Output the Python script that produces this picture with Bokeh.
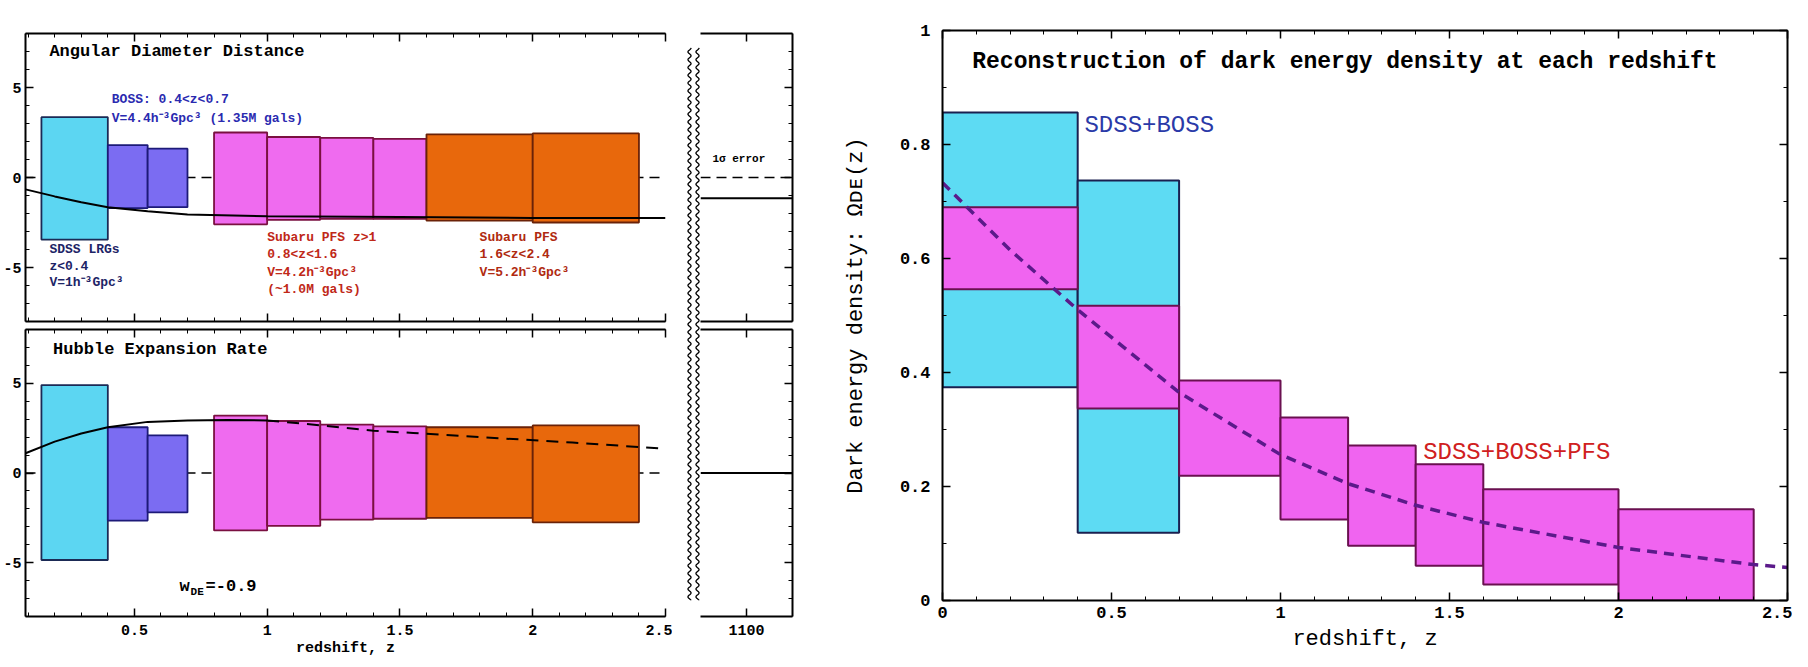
import numpy as np
from bokeh.plotting import figure
from bokeh.models import (ColumnDataSource, Range1d, LinearAxis, SingleIntervalTicker,
                          FixedTicker, CustomJSTickFormatter, CustomLabelingPolicy, Span, Title)
from bokeh.layouts import row, column
from bokeh.embed import file_html
from bokeh.resources import INLINE
from bokeh.core.properties import value

FONT = "Liberation Mono"

# ---------------- data: left panel (fractional errors, %) ----------------
bin_lo = [0.15, 0.40, 0.55, 0.80, 1.00, 1.20, 1.40, 1.60, 2.00]
bin_hi = [0.40, 0.55, 0.70, 1.00, 1.20, 1.40, 1.60, 2.00, 2.40]
bin_survey = ["SDSS", "BOSS", "BOSS", "PFS", "PFS", "PFS", "PFS", "PFShi", "PFShi"]
da_err_hi = [3.35, 1.80, 1.60, 2.50, 2.25, 2.20, 2.15, 2.40, 2.45]
da_err_lo = [-3.45, -1.70, -1.65, -2.60, -2.35, -2.30, -2.30, -2.40, -2.50]
h_err_hi = [4.90, 2.55, 2.10, 3.20, 2.90, 2.70, 2.60, 2.55, 2.65]
h_err_lo = [-4.85, -2.65, -2.20, -3.20, -2.95, -2.60, -2.55, -2.50, -2.75]

da_model_z = [0.09, 0.20, 0.30, 0.40, 0.55, 0.70, 1.00, 1.50, 2.00, 2.50]
da_model = [-0.66, -1.05, -1.38, -1.65, -1.88, -2.05, -2.15, -2.20, -2.25, -2.25]
h_model_z = [0.09, 0.20, 0.30, 0.40, 0.55, 0.70, 0.85, 1.00]
h_model = [1.10, 1.75, 2.20, 2.55, 2.85, 2.93, 2.95, 2.93]
h_model2_z = [1.00, 1.20, 1.40, 1.55, 1.80, 2.15, 2.50]
h_model2 = [2.93, 2.66, 2.36, 2.23, 2.00, 1.70, 1.35]

cmb_z_ticks = [1100]
cmb_da_model = -1.15
cmb_h_model = 0.0

# ---------------- data: right panel (Omega_DE reconstruction) ----------------
sb_zlo = [0.0, 0.4]
sb_zhi = [0.4, 0.7]
sb_low = [0.374, 0.119]
sb_high = [0.856, 0.737]
pfs_zlo = [0.0, 0.4, 0.7, 1.0, 1.2, 1.4, 1.6, 2.0]
pfs_zhi = [0.4, 0.7, 1.0, 1.2, 1.4, 1.6, 2.0, 2.4]
pfs_low = [0.546, 0.337, 0.219, 0.142, 0.096, 0.061, 0.028, 0.000]
pfs_high = [0.690, 0.517, 0.386, 0.321, 0.272, 0.239, 0.195, 0.160]
ode_z = [0.0, 0.2, 0.4, 0.7, 1.0, 1.2, 1.4, 1.6, 2.0, 2.4, 2.5]
ode_true = [0.733, 0.615, 0.510, 0.365, 0.256, 0.205, 0.167, 0.137, 0.093, 0.063, 0.058]

fill_map = {"SDSS": "#5cd6f2", "BOSS": "#7b6cf2", "PFS": "#ef6bef", "PFShi": "#e8680c"}
line_map = {"SDSS": "#1b2a55", "BOSS": "#1d1a78", "PFS": "#7a1040", "PFShi": "#6a2208"}

NO_LABELS = "for (const i of indices) { indices.unset(i) } return indices"


def style_axis(ax, labels=True, size="15px", bold=True):
    ax.axis_line_width = 2
    ax.axis_line_color = "black"
    ax.major_tick_in = 8
    ax.major_tick_out = 0
    ax.minor_tick_in = 4
    ax.minor_tick_out = 0
    ax.major_tick_line_width = 1.5
    ax.minor_tick_line_width = 1
    ax.major_label_text_font = FONT
    ax.major_label_text_font_style = "bold" if bold else "normal"
    ax.major_label_text_color = "black"
    if labels:
        ax.major_label_text_font_size = size
    else:
        ax.major_label_policy = CustomLabelingPolicy(code=NO_LABELS)
        ax.major_label_text_font_size = "1px"
        ax.major_label_standoff = 0


fmt = CustomJSTickFormatter(code="return String(Math.round(tick*10)/10);")


def add_axis(p, loc, ticker, labels=True, size="15px", standoff=5):
    ax = LinearAxis(ticker=ticker, formatter=fmt)
    style_axis(ax, labels, size)
    if labels:
        ax.major_label_standoff = standoff
    p.add_layout(ax, loc)
    return ax


def txt(p, x, y, s, size, color="black", style="normal", align="left",
        baseline="middle", x_off=0, y_off=0):
    p.text(x=[x], y=[y], text=[s], text_font=value(FONT), text_font_size=value(size),
           text_color=color, text_font_style=style, text_align=align,
           text_baseline=baseline, x_offset=x_off, y_offset=y_off)


def make_fig(w, h, xr, yr, **borders):
    p = figure(width=w, height=h, x_range=xr, y_range=yr, x_axis_location=None,
               y_axis_location=None, output_backend="svg", toolbar_location=None,
               outline_line_color=None, background_fill_color="white",
               border_fill_color="white", **borders)
    p.grid.visible = False
    return p


src = ColumnDataSource(dict(
    left=bin_lo, right=bin_hi,
    da_top=da_err_hi, da_bot=da_err_lo, h_top=h_err_hi, h_bot=h_err_lo,
    fill=[fill_map[s] for s in bin_survey], line=[line_map[s] for s in bin_survey]))

# ---------------- left top: angular diameter distance ----------------
p_da = make_fig(672, 325, Range1d(0.09, 2.5), Range1d(-8, 8),
                min_border_left=23, min_border_right=7, min_border_top=33, min_border_bottom=0)
add_axis(p_da, "left", SingleIntervalTicker(interval=5, num_minor_ticks=5), True, "15px", 4)
add_axis(p_da, "above", SingleIntervalTicker(interval=0.5, num_minor_ticks=5), False)
add_axis(p_da, "below", SingleIntervalTicker(interval=0.5, num_minor_ticks=5), False)
p_da.add_layout(Span(location=0, dimension="width", line_color="black", line_width=1.5,
                     line_dash="10 6", level="underlay"))
p_da.quad(left="left", right="right", top="da_top", bottom="da_bot", source=src,
          fill_color="fill", line_color="line", line_width=1.8)
p_da.line(da_model_z, da_model, line_color="black", line_width=2)
txt(p_da, 0.18, 7.0, "Angular Diameter Distance", "17px", style="bold")
txt(p_da, 0.415, 4.35, "BOSS: 0.4<z<0.7", "13px", color="#2a2ab0", style="bold")
txt(p_da, 0.415, 3.3, "V=4.4h⁻³Gpc³ (1.35M gals)", "13px", color="#2a2ab0", style="bold")
txt(p_da, 0.18, -4.0, "SDSS LRGs", "13px", color="#1d2466", style="bold")
txt(p_da, 0.18, -4.95, "z<0.4", "13px", color="#1d2466", style="bold")
txt(p_da, 0.18, -5.85, "V=1h⁻³Gpc³", "13px", color="#1d2466", style="bold")
txt(p_da, 1.0, -3.35, "Subaru PFS z>1", "13px", color="#c02818", style="bold")
txt(p_da, 1.0, -4.3, "0.8<z<1.6", "13px", color="#c02818", style="bold")
txt(p_da, 1.0, -5.25, "V=4.2h⁻³Gpc³", "13px", color="#c02818", style="bold")
txt(p_da, 1.0, -6.2, "(~1.0M gals)", "13px", color="#c02818", style="bold")
txt(p_da, 1.80, -3.35, "Subaru PFS", "13px", color="#b02a10", style="bold")
txt(p_da, 1.80, -4.3, "1.6<z<2.4", "13px", color="#b02a10", style="bold")
txt(p_da, 1.80, -5.25, "V=5.2h⁻³Gpc³", "13px", color="#b02a10", style="bold")

# ---------------- left bottom: Hubble expansion rate ----------------
p_h = make_fig(672, 334, Range1d(0.09, 2.5), Range1d(-8, 8),
               min_border_left=23, min_border_right=7, min_border_top=0, min_border_bottom=43)
add_axis(p_h, "left", SingleIntervalTicker(interval=5, num_minor_ticks=5), True, "15px", 4)
add_axis(p_h, "above", SingleIntervalTicker(interval=0.5, num_minor_ticks=5), False)
add_axis(p_h, "below", SingleIntervalTicker(interval=0.5, num_minor_ticks=5), True, "15px", 8)
p_h.add_layout(Title(text="redshift, z", align="center", offset=51, standoff=0,
                     text_font=FONT, text_font_size="15px", text_font_style="bold",
                     text_color="black"), "below")
p_h.add_layout(Span(location=0, dimension="width", line_color="black", line_width=1.5,
                    line_dash="10 6", level="underlay"))
p_h.quad(left="left", right="right", top="h_top", bottom="h_bot", source=src,
         fill_color="fill", line_color="line", line_width=1.8)
p_h.line(h_model_z, h_model, line_color="black", line_width=2)
p_h.line(h_model2_z, h_model2, line_color="black", line_width=2, line_dash="12 8")
txt(p_h, 0.194, 6.9, "Hubble Expansion Rate", "17px", style="bold")
txt(p_h, 0.67, -6.3, "w", "17px", style="bold")
txt(p_h, 0.67, -6.3, "DE", "11px", style="bold", x_off=11, y_off=6)
txt(p_h, 0.67, -6.3, "=-0.9", "17px", style="bold", x_off=26)

# ---------------- axis break ----------------
brk = make_fig(28, 659, Range1d(0, 28), Range1d(659, 0), min_border=0)
wy = np.arange(20, 660, 1.0)
for cx in (17.0, 25.0):
    brk.line(cx + 1.6 * np.sin(2 * np.pi * wy / 9.0), wy, line_color="black", line_width=1.3)

# ---------------- small CMB panels (z = 1100) ----------------
s_da = make_fig(107, 325, Range1d(1000, 1200), Range1d(-8, 8),
                min_border_left=0, min_border_right=15, min_border_top=33, min_border_bottom=0)
add_axis(s_da, "above", FixedTicker(ticks=cmb_z_ticks), False)
add_axis(s_da, "below", FixedTicker(ticks=cmb_z_ticks), False)
add_axis(s_da, "right", SingleIntervalTicker(interval=5, num_minor_ticks=5), False)
s_da.add_layout(Span(location=0, dimension="width", line_color="black", line_width=1.5,
                     line_dash="10 6"))
s_da.add_layout(Span(location=cmb_da_model, dimension="width", line_color="black", line_width=2))
txt(s_da, 1026, 1.05, "1σ error", "11px", style="bold")

s_h = make_fig(107, 334, Range1d(1000, 1200), Range1d(-8, 8),
               min_border_left=0, min_border_right=15, min_border_top=0, min_border_bottom=43)
add_axis(s_h, "above", FixedTicker(ticks=cmb_z_ticks), False)
add_axis(s_h, "below", FixedTicker(ticks=cmb_z_ticks), True, "15px", 8)
add_axis(s_h, "right", SingleIntervalTicker(interval=5, num_minor_ticks=5), False)
s_h.add_layout(Span(location=cmb_h_model, dimension="width", line_color="black", line_width=2))

# ---------------- right panel ----------------
pr = make_fig(985, 659, Range1d(0, 2.5), Range1d(0, 1),
              min_border_left=135, min_border_right=0, min_border_top=30, min_border_bottom=59)
axl = add_axis(pr, "left", SingleIntervalTicker(interval=0.2, num_minor_ticks=2), True, "17px", 12)
axl.axis_label = "Dark energy density: Ωᴅᴇ(z)"
axb = add_axis(pr, "below", SingleIntervalTicker(interval=0.5, num_minor_ticks=5), True, "17px", 6)
axb.axis_label = "redshift, z"
for ax in (axl, axb):
    ax.axis_label_text_font = FONT
    ax.axis_label_text_font_size = "22px"
    ax.axis_label_text_font_style = "normal"
    ax.axis_label_text_color = "black"
axl.axis_label_standoff = 28
axb.axis_label_standoff = 6
add_axis(pr, "above", SingleIntervalTicker(interval=0.5, num_minor_ticks=5), False)
add_axis(pr, "right", SingleIntervalTicker(interval=0.2, num_minor_ticks=2), False)

pr.quad(left=sb_zlo, right=sb_zhi, bottom=sb_low, top=sb_high,
        fill_color="#5ddbf3", line_color="#1a2050", line_width=2)
pr.quad(left=pfs_zlo, right=pfs_zhi, bottom=pfs_low, top=pfs_high,
        fill_color="#f064f0", line_color="#6a1050", line_width=2)
pr.line(ode_z, ode_true, line_color="#5b1a8a", line_width=3.5, line_dash="10 7")
txt(pr, 0.088, 0.944, "Reconstruction of dark energy density at each redshift", "23px", style="bold")
txt(pr, 0.42, 0.833, "SDSS+BOSS", "24px", color="#2a3aa8")
txt(pr, 1.422, 0.26, "SDSS+BOSS+PFS", "24px", color="#d02020")

layout = row(column(p_da, p_h), brk, column(s_da, s_h), pr)

html = file_html(layout, INLINE, "Dark energy reconstruction")
open("out.html", "w").write(html)
